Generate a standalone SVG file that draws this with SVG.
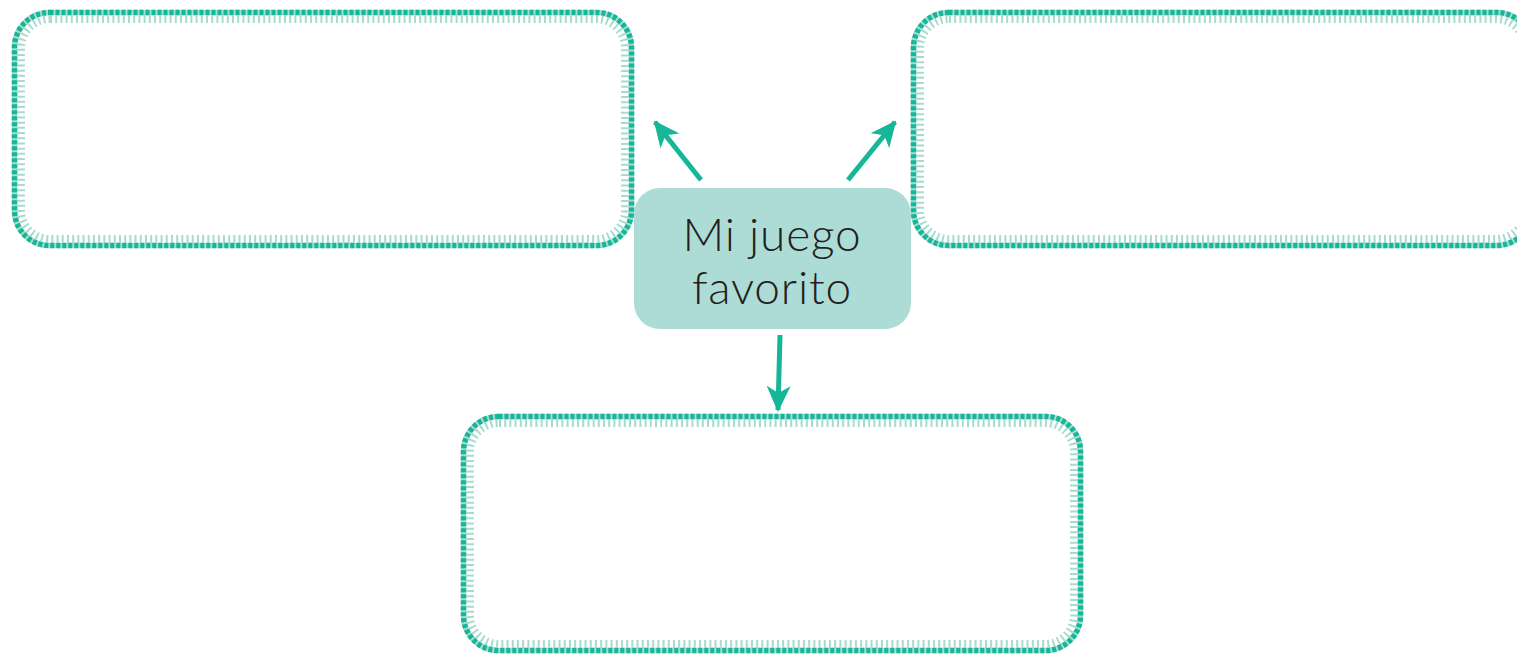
<svg xmlns="http://www.w3.org/2000/svg" width="1517" height="654" viewBox="0 0 1517 654">
<defs>
<style>
.base{fill:none;stroke:#a6dccf;stroke-width:5.5}
.dark{fill:none;stroke:#16b698;stroke-width:5.5;stroke-dasharray:4 2}
.tick{fill:none;stroke:#a6dccf;stroke-width:8;stroke-dasharray:2 3.2}
.conn{stroke:#16b698;stroke-width:5;fill:none}
.lbl{font-family:"Lato","Noto Sans","Liberation Sans",sans-serif;font-weight:300;font-size:46px;letter-spacing:0.8px;fill:#231f20;text-anchor:middle}
</style>
<marker id="ah" markerUnits="userSpaceOnUse" markerWidth="26" markerHeight="24" viewBox="0 0 26 24" refX="24" refY="12" orient="auto">
<path d="M0,0 L26,12 L0,24 L7,12 z" fill="#16b698"/>
</marker>
</defs>
<g id="box-left">
<rect class="base" x="14.5" y="12.5" width="617" height="233" rx="35"/>
<rect class="dark" x="14.5" y="12.5" width="617" height="233" rx="35"/>
<rect class="tick" x="21" y="19" width="604" height="220" rx="29"/>
</g>
<g id="box-right">
<rect class="base" x="913.5" y="12.5" width="618" height="233" rx="35"/>
<rect class="dark" x="913.5" y="12.5" width="618" height="233" rx="35"/>
<rect class="tick" x="920" y="19" width="605" height="220" rx="29"/>
</g>
<g id="box-bottom">
<rect class="base" x="463.5" y="416.5" width="617" height="234" rx="35"/>
<rect class="dark" x="463.5" y="416.5" width="617" height="234" rx="35"/>
<rect class="tick" x="470" y="423" width="604" height="221" rx="29"/>
</g>
<g id="center">
<rect x="634" y="188" width="277" height="141" rx="26" fill="#addcd6"/>
<text class="lbl" x="772" y="251">Mi juego</text>
<text class="lbl" x="772" y="304">favorito</text>
</g>
<g id="connectors">
<line class="conn" x1="701" y1="180" x2="655" y2="122" marker-end="url(#ah)"/>
<line class="conn" x1="848" y1="180" x2="895" y2="122" marker-end="url(#ah)"/>
<line class="conn" x1="780" y1="335" x2="778" y2="410" marker-end="url(#ah)"/>
</g>
</svg>
